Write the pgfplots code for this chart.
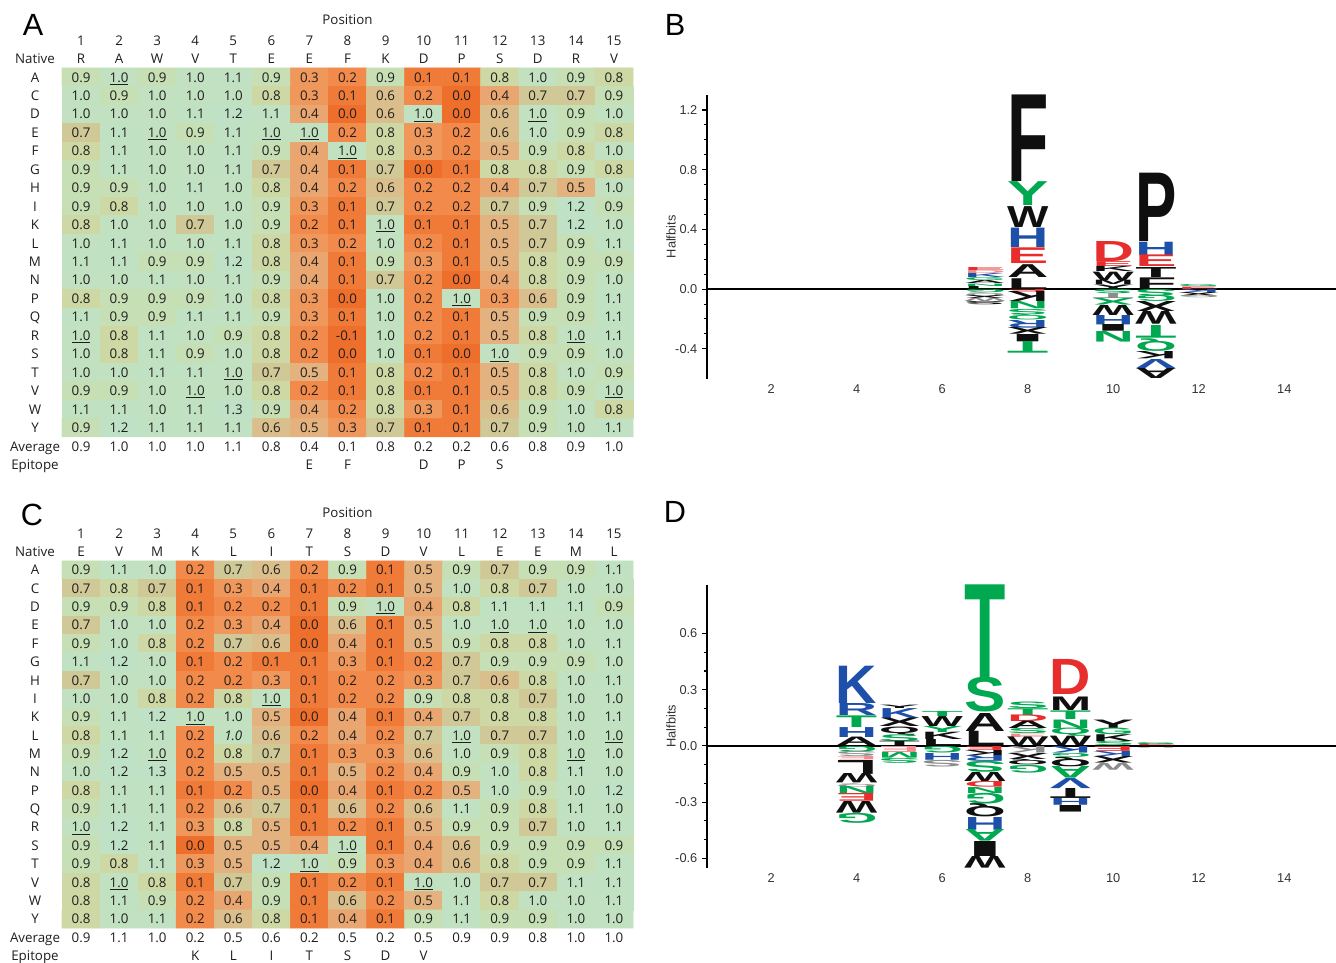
\documentclass[border=0pt]{standalone}
\usepackage{fontspec}
\setmainfont{Open Sans}
\newfontfamily\hel{Liberation Sans}
\usepackage{graphicx}
\usepackage{pgfplots}
\usepackage{pgfplotstable}
\pgfplotsset{compat=1.18}
\definecolor{txt}{RGB}{30,30,30}
\definecolor{cK}{RGB}{15,15,15}
\definecolor{cR}{RGB}{232,45,45}
\definecolor{cB}{RGB}{30,80,170}
\definecolor{cG}{RGB}{0,168,80}
\definecolor{cP}{RGB}{242,140,140}
\definecolor{cY}{RGB}{140,140,140}
\newcommand\hmf{\fontsize{10}{12}\selectfont}
\newcommand\axf{\hel\fontsize{9.6}{11}\selectfont}
\newlength\lgunit

% ---------- heat map A (rows A..Y, columns 1..15)
\pgfplotstableread[row sep=\\]{
v\\
0.9\\1.0\\0.9\\1.0\\1.1\\0.9\\0.3\\0.2\\0.9\\0.1\\0.1\\0.8\\1.0\\0.9\\0.8\\
1.0\\0.9\\1.0\\1.0\\1.0\\0.8\\0.3\\0.1\\0.6\\0.2\\0.0\\0.4\\0.7\\0.7\\0.9\\
1.0\\1.0\\1.0\\1.1\\1.2\\1.1\\0.4\\0.0\\0.6\\1.0\\0.0\\0.6\\1.0\\0.9\\1.0\\
0.7\\1.1\\1.0\\0.9\\1.1\\1.0\\1.0\\0.2\\0.8\\0.3\\0.2\\0.6\\1.0\\0.9\\0.8\\
0.8\\1.1\\1.0\\1.0\\1.1\\0.9\\0.4\\1.0\\0.8\\0.3\\0.2\\0.5\\0.9\\0.8\\1.0\\
0.9\\1.1\\1.0\\1.0\\1.1\\0.7\\0.4\\0.1\\0.7\\0.0\\0.1\\0.8\\0.8\\0.9\\0.8\\
0.9\\0.9\\1.0\\1.1\\1.0\\0.8\\0.4\\0.2\\0.6\\0.2\\0.2\\0.4\\0.7\\0.5\\1.0\\
0.9\\0.8\\1.0\\1.0\\1.0\\0.9\\0.3\\0.1\\0.7\\0.2\\0.2\\0.7\\0.9\\1.2\\0.9\\
0.8\\1.0\\1.0\\0.7\\1.0\\0.9\\0.2\\0.1\\1.0\\0.1\\0.1\\0.5\\0.7\\1.2\\1.0\\
1.0\\1.1\\1.0\\1.0\\1.1\\0.8\\0.3\\0.2\\1.0\\0.2\\0.1\\0.5\\0.7\\0.9\\1.1\\
1.1\\1.1\\0.9\\0.9\\1.2\\0.8\\0.4\\0.1\\0.9\\0.3\\0.1\\0.5\\0.8\\0.9\\0.9\\
1.0\\1.0\\1.1\\1.0\\1.1\\0.9\\0.4\\0.1\\0.7\\0.2\\0.0\\0.4\\0.8\\0.9\\1.0\\
0.8\\0.9\\0.9\\0.9\\1.0\\0.8\\0.3\\0.0\\1.0\\0.2\\1.0\\0.3\\0.6\\0.9\\1.1\\
1.1\\0.9\\0.9\\1.1\\1.1\\0.9\\0.3\\0.1\\1.0\\0.2\\0.1\\0.5\\0.9\\0.9\\1.1\\
1.0\\0.8\\1.1\\1.0\\0.9\\0.8\\0.2\\-0.1\\1.0\\0.2\\0.1\\0.5\\0.8\\1.0\\1.1\\
1.0\\0.8\\1.1\\0.9\\1.0\\0.8\\0.2\\0.0\\1.0\\0.1\\0.0\\1.0\\0.9\\0.9\\1.0\\
1.0\\1.0\\1.1\\1.1\\1.0\\0.7\\0.5\\0.1\\0.8\\0.2\\0.1\\0.5\\0.8\\1.0\\0.9\\
0.9\\0.9\\1.0\\1.0\\1.0\\0.8\\0.2\\0.1\\0.8\\0.1\\0.1\\0.5\\0.8\\0.9\\1.0\\
1.1\\1.1\\1.0\\1.1\\1.3\\0.9\\0.4\\0.2\\0.8\\0.3\\0.1\\0.6\\0.9\\1.0\\0.8\\
0.9\\1.2\\1.1\\1.1\\1.1\\0.6\\0.5\\0.3\\0.7\\0.1\\0.1\\0.7\\0.9\\1.0\\1.1\\
}\dataA
\pgfplotstablecreatecol[expr={mod(\pgfplotstablerow,15)+1}]{x}\dataA
\pgfplotstablecreatecol[expr={floor((\pgfplotstablerow+0.5)/15)+1}]{y}\dataA
% underlined cells of A (column, row)
\pgfplotstableread[row sep=\\]{
x y\\ 2 1\\ 10 3\\ 13 3\\ 3 4\\ 6 4\\ 7 4\\ 8 5\\ 9 9\\ 11 13\\ 1 15\\ 14 15\\ 12 16\\ 5 17\\ 4 18\\ 15 18\\
}\ulA
\pgfplotstableread[row sep=\\]{
x y t\\
1 -1 1\\2 -1 2\\3 -1 3\\4 -1 4\\5 -1 5\\6 -1 6\\7 -1 7\\8 -1 8\\9 -1 9\\10 -1 10\\11 -1 11\\12 -1 12\\13 -1 13\\14 -1 14\\15 -1 15\\
1 0 R\\2 0 A\\3 0 W\\4 0 V\\5 0 T\\6 0 E\\7 0 E\\8 0 F\\9 0 K\\10 0 D\\11 0 P\\12 0 S\\13 0 D\\14 0 R\\15 0 V\\
1 21 0.9\\2 21 1.0\\3 21 1.0\\4 21 1.0\\5 21 1.1\\6 21 0.8\\7 21 0.4\\8 21 0.1\\9 21 0.8\\10 21 0.2\\11 21 0.2\\12 21 0.6\\13 21 0.8\\14 21 0.9\\15 21 1.0\\
7 22 E\\8 22 F\\10 22 D\\11 22 P\\12 22 S\\
8 -2.1 Position\\
}\hdrA

% ---------- heat map C
\pgfplotstableread[row sep=\\]{
v\\
0.9\\1.1\\1.0\\0.2\\0.7\\0.6\\0.2\\0.9\\0.1\\0.5\\0.9\\0.7\\0.9\\0.9\\1.1\\
0.7\\0.8\\0.7\\0.1\\0.3\\0.4\\0.1\\0.2\\0.1\\0.5\\1.0\\0.8\\0.7\\1.0\\1.0\\
0.9\\0.9\\0.8\\0.1\\0.2\\0.2\\0.1\\0.9\\1.0\\0.4\\0.8\\1.1\\1.1\\1.1\\0.9\\
0.7\\1.0\\1.0\\0.2\\0.3\\0.4\\0.0\\0.6\\0.1\\0.5\\1.0\\1.0\\1.0\\1.0\\1.0\\
0.9\\1.0\\0.8\\0.2\\0.7\\0.6\\0.0\\0.4\\0.1\\0.5\\0.9\\0.8\\0.8\\1.0\\1.1\\
1.1\\1.2\\1.0\\0.1\\0.2\\0.1\\0.1\\0.3\\0.1\\0.2\\0.7\\0.9\\0.9\\0.9\\1.0\\
0.7\\1.0\\1.0\\0.2\\0.2\\0.3\\0.1\\0.2\\0.2\\0.3\\0.7\\0.6\\0.8\\1.0\\1.1\\
1.0\\1.0\\0.8\\0.2\\0.8\\1.0\\0.1\\0.2\\0.2\\0.9\\0.8\\0.8\\0.7\\1.0\\1.0\\
0.9\\1.1\\1.2\\1.0\\1.0\\0.5\\0.0\\0.4\\0.1\\0.4\\0.7\\0.8\\0.8\\1.0\\1.1\\
0.8\\1.1\\1.1\\0.2\\1.0\\0.6\\0.2\\0.4\\0.2\\0.7\\1.0\\0.7\\0.7\\1.0\\1.0\\
0.9\\1.2\\1.0\\0.2\\0.8\\0.7\\0.1\\0.3\\0.3\\0.6\\1.0\\0.9\\0.8\\1.0\\1.0\\
1.0\\1.2\\1.3\\0.2\\0.5\\0.5\\0.1\\0.5\\0.2\\0.4\\0.9\\1.0\\0.8\\1.1\\1.0\\
0.8\\1.1\\1.1\\0.1\\0.2\\0.5\\0.0\\0.4\\0.1\\0.2\\0.5\\1.0\\0.9\\1.0\\1.2\\
0.9\\1.1\\1.1\\0.2\\0.6\\0.7\\0.1\\0.6\\0.2\\0.6\\1.1\\0.9\\0.8\\1.1\\1.0\\
1.0\\1.2\\1.1\\0.3\\0.8\\0.5\\0.1\\0.2\\0.1\\0.5\\0.9\\0.9\\0.7\\1.0\\1.1\\
0.9\\1.2\\1.1\\0.0\\0.5\\0.5\\0.4\\1.0\\0.1\\0.4\\0.6\\0.9\\0.9\\0.9\\0.9\\
0.9\\0.8\\1.1\\0.3\\0.5\\1.2\\1.0\\0.9\\0.3\\0.4\\0.6\\0.8\\0.9\\0.9\\1.1\\
0.8\\1.0\\0.8\\0.1\\0.7\\0.9\\0.1\\0.2\\0.1\\1.0\\1.0\\0.7\\0.7\\1.1\\1.1\\
0.8\\1.1\\0.9\\0.2\\0.4\\0.9\\0.1\\0.6\\0.2\\0.5\\1.1\\0.8\\1.0\\1.0\\1.1\\
0.8\\1.0\\1.1\\0.2\\0.6\\0.8\\0.1\\0.4\\0.1\\0.9\\1.1\\0.9\\0.9\\1.0\\1.0\\
}\dataC
\pgfplotstablecreatecol[expr={mod(\pgfplotstablerow,15)+1}]{x}\dataC
\pgfplotstablecreatecol[expr={floor((\pgfplotstablerow+0.5)/15)+1}]{y}\dataC
\pgfplotstableread[row sep=\\]{
x y\\ 9 3\\ 12 4\\ 13 4\\ 6 8\\ 4 9\\ 11 10\\ 15 10\\ 3 11\\ 14 11\\ 1 15\\ 8 16\\ 7 17\\ 2 18\\ 10 18\\
}\ulC
\pgfplotstableread[row sep=\\]{
x y t\\ 5 10 1.0\\
}\itC
\pgfplotstableread[row sep=\\]{
x y t\\
1 -1 1\\2 -1 2\\3 -1 3\\4 -1 4\\5 -1 5\\6 -1 6\\7 -1 7\\8 -1 8\\9 -1 9\\10 -1 10\\11 -1 11\\12 -1 12\\13 -1 13\\14 -1 14\\15 -1 15\\
1 0 E\\2 0 V\\3 0 M\\4 0 K\\5 0 L\\6 0 I\\7 0 T\\8 0 S\\9 0 D\\10 0 V\\11 0 L\\12 0 E\\13 0 E\\14 0 M\\15 0 L\\
1 21 0.9\\2 21 1.1\\3 21 1.0\\4 21 0.2\\5 21 0.5\\6 21 0.6\\7 21 0.2\\8 21 0.5\\9 21 0.2\\10 21 0.5\\11 21 0.9\\12 21 0.9\\13 21 0.8\\14 21 1.0\\15 21 1.0\\
4 22 K\\5 22 L\\6 22 I\\7 22 T\\8 22 S\\9 22 D\\10 22 V\\
8 -2.1 Position\\
}\hdrC

\pgfplotsset{
 hm/.style={scale only axis, width=428.25pt, xmin=0.5, xmax=15.5, ymin=-2.6, ymax=22.5,
  y dir=reverse, clip=false,
  axis line style={draw=none}, major tick length=0pt, minor tick length=0pt, tick style={draw=none},
  xtick=\empty, ytick={0,...,22},
  yticklabels={Native,A,C,D,E,F,G,H,I,K,L,M,N,P,Q,R,S,T,V,W,Y,Average,Epitope},
  yticklabel style={anchor=base, xshift=-20.25pt, yshift=-3.6pt, font=\hmf, text=txt, inner sep=0pt},
  colormap={heat}{rgb255(0cm)=(238,110,44); rgb255(1cm)=(240,122,56); rgb255(2cm)=(241,138,74);
   rgb255(3cm)=(240,152,92); rgb255(4cm)=(234,166,112); rgb255(5cm)=(228,178,126);
   rgb255(6cm)=(218,190,140); rgb255(7cm)=(208,200,150); rgb255(8cm)=(206,216,164);
   rgb255(9cm)=(198,223,180); rgb255(10cm)=(193,225,192); rgb255(12cm)=(191,225,197)},
  point meta min=0, point meta max=1.2},
 txtnode/.style={every node near coord/.append style={anchor=base, yshift=-3.6pt, font=\hmf, text=txt, inner sep=0pt}},
 hmtext/.style={draw=none, mark=none, point meta=explicit symbolic,
  nodes near coords={\pgfplotspointmeta}, txtnode},
 ultext/.style={draw=none, mark=none, nodes near coords={\underline{\phantom{0.0}}}, txtnode},
 ittext/.style={draw=none, mark=none, point meta=explicit symbolic,
  nodes near coords={\textit{\pgfplotspointmeta}}, txtnode},
 lg/.style={scale only axis, width=471.75pt, xmin=0.5, xmax=15.21, clip=false,
  axis lines*=left, x axis line style={draw=none}, y axis line style={line width=1pt},
  xtick=\empty, extra x ticks={2,4,6,8,10,12,14}, extra x tick labels={2,4,6,8,10,12,14},
  extra x tick style={major tick length=0pt},
  xticklabel style={anchor=center, yshift=-7.5pt},
  tick align=outside, major tick length=3.75pt, minor tick length=2.2pt,
  tick style={black, line width=0.8pt},
  ticklabel style={font=\axf, text=black!80},
  yticklabel style={/pgf/number format/fixed, /pgf/number format/fixed zerofill,
   /pgf/number format/precision=1, /pgf/number format/assume math mode=true},
  ylabel={Halfbits},
  every axis y label/.style={at={(axis description cs:0,0.5)}, xshift=-27pt, rotate=90,
   anchor=center, font=\axf, text=black!80}},
 lt/.style n args={5}{draw=none, mark=none,
  nodes near coords={\rotatebox{#5}{\resizebox*{31pt}{\dimexpr#4\lgunit-#3\lgunit\relax}{\textcolor{c#2}{\hel\bfseries #1}}}},
  every node near coord/.append style={anchor=south, inner sep=0pt, outer sep=0pt}}
}
% one logo letter: position, letter, colour, bottom, top, rotation
\newcommand\Lt[6]{\addplot[lt={#2}{#3}{#4}{#5}{#6}] coordinates {(#1,#4)};}

\begin{document}
\begin{tikzpicture}
\path[use as bounding box] (0,0) rectangle (1002pt,-722.25pt);

% A
\begin{axis}[hm, at={(46.5pt,-8.1pt)}, anchor=north west, height=347.3pt]
\addplot[matrix plot*, mesh/cols=15, point meta=\thisrow{v}] table[x=x, y=y] \dataA;
\addplot[hmtext] table[x=x, y=y, meta=v] \dataA;
\addplot[ultext] table[x=x, y=y] \ulA;
\addplot[hmtext] table[x=x, y=y, meta=t] \hdrA;
\end{axis}

% C
\begin{axis}[hm, at={(46.5pt,-377.9pt)}, anchor=north west, height=345.8pt]
\addplot[matrix plot*, mesh/cols=15, point meta=\thisrow{v}] table[x=x, y=y] \dataC;
\addplot[hmtext, skip coords between index={139}{140}] table[x=x, y=y, meta=v] \dataC;
\addplot[ultext] table[x=x, y=y] \ulC;
\addplot[ittext] table[x=x, y=y, meta=t] \itC;
\addplot[hmtext] table[x=x, y=y, meta=t] \hdrC;
\end{axis}

% B
\setlength\lgunit{111.9pt}
\begin{axis}[lg, at={(530.25pt,-71.3pt)}, anchor=north west, height=212.7pt,
  ymin=-0.6, ymax=1.3, ytick={-0.4,0,0.4,0.8,1.2}, minor y tick num=3]
\Lt{7}{E}{R}{0.123}{0.143}{0}
\Lt{7}{D}{P}{0.103}{0.123}{0}
\Lt{7}{K}{B}{0.076}{0.103}{0}
\Lt{7}{G}{G}{0.056}{0.076}{0}
\Lt{7}{A}{K}{0.036}{0.056}{0}
\Lt{7}{N}{G}{0.020}{0.036}{0}
\Lt{7}{L}{K}{0.000}{0.020}{0}
\Lt{7}{G}{G}{-0.022}{0}{180}
\Lt{7}{Q}{Y}{-0.045}{-0.022}{180}
\Lt{7}{X}{K}{-0.065}{-0.045}{180}
\Lt{7}{W}{Y}{-0.085}{-0.065}{180}
\Lt{7}{S}{K}{-0.107}{-0.085}{180}
\Lt{8}{F}{K}{0.72}{1.30}{0}
\Lt{8}{Y}{G}{0.56}{0.72}{0}
\Lt{8}{W}{K}{0.415}{0.555}{0}
\Lt{8}{H}{B}{0.28}{0.41}{0}
\Lt{8}{E}{R}{0.17}{0.275}{0}
\Lt{8}{A}{K}{0.076}{0.162}{0}
\Lt{8}{L}{K}{0.0}{0.072}{0}
\Lt{8}{E}{R}{-0.018}{0}{180}
\Lt{8}{K}{K}{-0.085}{-0.018}{180}
\Lt{8}{N}{G}{-0.134}{-0.085}{180}
\Lt{8}{S}{G}{-0.17}{-0.134}{180}
\Lt{8}{Q}{G}{-0.208}{-0.17}{180}
\Lt{8}{R}{B}{-0.259}{-0.208}{180}
\Lt{8}{X}{K}{-0.304}{-0.259}{180}
\Lt{8}{I}{K}{-0.353}{-0.304}{180}
\Lt{8}{T}{G}{-0.431}{-0.353}{180}
\Lt{10}{D}{R}{0.183}{0.317}{0}
\Lt{10}{E}{R}{0.15}{0.183}{0}
\Lt{10}{K}{K}{0.116}{0.15}{0}
\Lt{10}{W}{K}{0.06}{0.116}{0}
\Lt{10}{M}{K}{0.031}{0.06}{0}
\Lt{10}{Y}{K}{0.0}{0.031}{0}
\Lt{10}{S}{G}{-0.029}{0}{180}
\Lt{10}{T}{Y}{-0.063}{-0.029}{180}
\Lt{10}{X}{G}{-0.107}{-0.063}{180}
\Lt{10}{W}{K}{-0.174}{-0.107}{180}
\Lt{10}{H}{B}{-0.237}{-0.174}{180}
\Lt{10}{I}{K}{-0.282}{-0.237}{180}
\Lt{10}{N}{G}{-0.353}{-0.282}{180}
\Lt{11}{P}{K}{0.317}{0.775}{0}
\Lt{11}{H}{B}{0.228}{0.317}{0}
\Lt{11}{E}{R}{0.15}{0.228}{0}
\Lt{11}{T}{K}{0.08}{0.147}{0}
\Lt{11}{F}{K}{0.0}{0.078}{0}
\Lt{11}{S}{G}{-0.045}{0}{180}
\Lt{11}{G}{G}{-0.085}{-0.045}{180}
\Lt{11}{X}{K}{-0.152}{-0.085}{180}
\Lt{11}{W}{K}{-0.237}{-0.152}{180}
\Lt{11}{T}{G}{-0.326}{-0.241}{180}
\Lt{11}{Q}{G}{-0.416}{-0.331}{180}
\Lt{11}{K}{K}{-0.469}{-0.42}{180}
\Lt{11}{V}{B}{-0.532}{-0.469}{180}
\Lt{11}{A}{K}{-0.599}{-0.532}{180}
\Lt{12}{E}{R}{0.0}{0.016}{0}
\Lt{12}{G}{G}{0.016}{0.03}{0}
\Lt{12}{K}{B}{-0.022}{0}{180}
\Lt{12}{X}{K}{-0.045}{-0.022}{180}
\Lt{12}{G}{Y}{-0.06}{-0.045}{180}
\addplot[black, line width=1.1pt] coordinates {(0.5,0) (15.21,0)};
\end{axis}

% D
\setlength\lgunit{140.6pt}
\begin{axis}[lg, at={(530.25pt,-438.56pt)}, anchor=north west, height=212.3pt,
  ymin=-0.65, ymax=0.86, ytick={-0.6,-0.3,0,0.3,0.6}, minor y tick num=2]
\Lt{4}{K}{B}{0.224}{0.423}{0}
\Lt{4}{R}{B}{0.16}{0.224}{0}
\Lt{4}{T}{G}{0.098}{0.16}{0}
\Lt{4}{H}{B}{0.045}{0.098}{0}
\Lt{4}{A}{K}{0.0}{0.045}{0}
\Lt{4}{G}{G}{-0.03}{0}{180}
\Lt{4}{S}{Y}{-0.057}{-0.03}{180}
\Lt{4}{E}{P}{-0.075}{-0.057}{180}
\Lt{4}{L}{K}{-0.149}{-0.075}{180}
\Lt{4}{W}{K}{-0.199}{-0.149}{180}
\Lt{4}{Q}{Y}{-0.217}{-0.199}{180}
\Lt{4}{N}{G}{-0.256}{-0.217}{180}
\Lt{4}{E}{R}{-0.297}{-0.256}{180}
\Lt{4}{W}{K}{-0.359}{-0.297}{180}
\Lt{4}{G}{G}{-0.412}{-0.359}{180}
\Lt{5}{Y}{K}{0.201}{0.219}{0}
\Lt{5}{K}{B}{0.148}{0.201}{0}
\Lt{5}{X}{K}{0.103}{0.148}{0}
\Lt{5}{Q}{K}{0.059}{0.103}{0}
\Lt{5}{S}{G}{0.023}{0.059}{0}
\Lt{5}{T}{K}{0.0}{0.023}{0}
\Lt{5}{E}{P}{-0.036}{-0.004}{180}
\Lt{5}{M}{G}{-0.066}{-0.036}{180}
\Lt{5}{S}{G}{-0.092}{-0.066}{180}
\Lt{6}{T}{G}{0.156}{0.183}{0}
\Lt{6}{W}{K}{0.103}{0.156}{0}
\Lt{6}{Y}{G}{0.071}{0.103}{0}
\Lt{6}{K}{K}{0.032}{0.071}{0}
\Lt{6}{L}{K}{0.0}{0.032}{0}
\Lt{6}{G}{G}{-0.039}{-0.004}{180}
\Lt{6}{H}{B}{-0.075}{-0.039}{180}
\Lt{6}{S}{Y}{-0.11}{-0.075}{180}
\Lt{7}{T}{G}{0.365}{0.859}{0}
\Lt{7}{S}{G}{0.18}{0.365}{0}
\Lt{7}{A}{K}{0.076}{0.172}{0}
\Lt{7}{L}{K}{0.0}{0.076}{0}
\Lt{7}{E}{R}{-0.025}{-0.004}{180}
\Lt{7}{K}{K}{-0.053}{-0.025}{180}
\Lt{7}{R}{B}{-0.084}{-0.053}{180}
\Lt{7}{S}{G}{-0.142}{-0.084}{180}
\Lt{7}{W}{K}{-0.19}{-0.142}{180}
\Lt{7}{D}{R}{-0.22}{-0.19}{180}
\Lt{7}{N}{G}{-0.252}{-0.22}{180}
\Lt{7}{G}{G}{-0.309}{-0.252}{180}
\Lt{7}{Q}{K}{-0.38}{-0.309}{180}
\Lt{7}{H}{B}{-0.448}{-0.38}{180}
\Lt{7}{A}{G}{-0.51}{-0.448}{180}
\Lt{7}{I}{K}{-0.59}{-0.51}{180}
\Lt{7}{W}{K}{-0.652}{-0.59}{180}
\Lt{8}{S}{G}{0.201}{0.236}{0}
\Lt{8}{T}{G}{0.165}{0.201}{0}
\Lt{8}{D}{R}{0.13}{0.165}{0}
\Lt{8}{A}{K}{0.091}{0.13}{0}
\Lt{8}{S}{G}{0.064}{0.091}{0}
\Lt{8}{E}{P}{0.046}{0.064}{0}
\Lt{8}{W}{K}{0.0}{0.046}{0}
\Lt{8}{K}{Y}{-0.039}{-0.004}{180}
\Lt{8}{X}{K}{-0.071}{-0.039}{180}
\Lt{8}{Q}{K}{-0.101}{-0.071}{180}
\Lt{8}{G}{G}{-0.142}{-0.101}{180}
\Lt{9}{D}{R}{0.272}{0.459}{0}
\Lt{9}{M}{K}{0.19}{0.262}{0}
\Lt{9}{T}{G}{0.139}{0.185}{0}
\Lt{9}{N}{G}{0.094}{0.139}{0}
\Lt{9}{Q}{G}{0.05}{0.094}{0}
\Lt{9}{W}{K}{0.0}{0.05}{0}
\Lt{9}{K}{B}{-0.039}{-0.004}{180}
\Lt{9}{G}{G}{-0.06}{-0.039}{180}
\Lt{9}{Q}{K}{-0.11}{-0.06}{180}
\Lt{9}{A}{G}{-0.172}{-0.11}{180}
\Lt{9}{V}{B}{-0.226}{-0.172}{180}
\Lt{9}{T}{K}{-0.279}{-0.226}{180}
\Lt{9}{H}{B}{-0.315}{-0.279}{180}
\Lt{9}{I}{K}{-0.35}{-0.315}{180}
\Lt{10}{Y}{K}{0.094}{0.139}{0}
\Lt{10}{G}{G}{0.059}{0.094}{0}
\Lt{10}{K}{K}{0.023}{0.059}{0}
\Lt{10}{S}{G}{0.0}{0.023}{0}
\Lt{10}{E}{R}{-0.03}{-0.004}{180}
\Lt{10}{K}{B}{-0.057}{-0.03}{180}
\Lt{10}{X}{K}{-0.092}{-0.057}{180}
\Lt{10}{W}{Y}{-0.128}{-0.092}{180}
\Lt{11}{E}{R}{0.0}{0.01}{0}
\Lt{11}{G}{G}{0.01}{0.02}{0}
\Lt{11}{K}{K}{-0.012}{0}{180}
\addplot[black, line width=1.1pt] coordinates {(0.5,0) (15.21,0)};
\end{axis}

\node[font=\hel\fontsize{23}{23}\selectfont, anchor=center] at (24.75pt,-18.75pt) {A};
\node[font=\hel\fontsize{23}{23}\selectfont, anchor=center] at (506.25pt,-18.75pt) {B};
\node[font=\hel\fontsize{23}{23}\selectfont, anchor=center] at (24pt,-386.25pt) {C};
\node[font=\hel\fontsize{23}{23}\selectfont, anchor=center] at (506.25pt,-384pt) {D};
\end{tikzpicture}
\end{document}
